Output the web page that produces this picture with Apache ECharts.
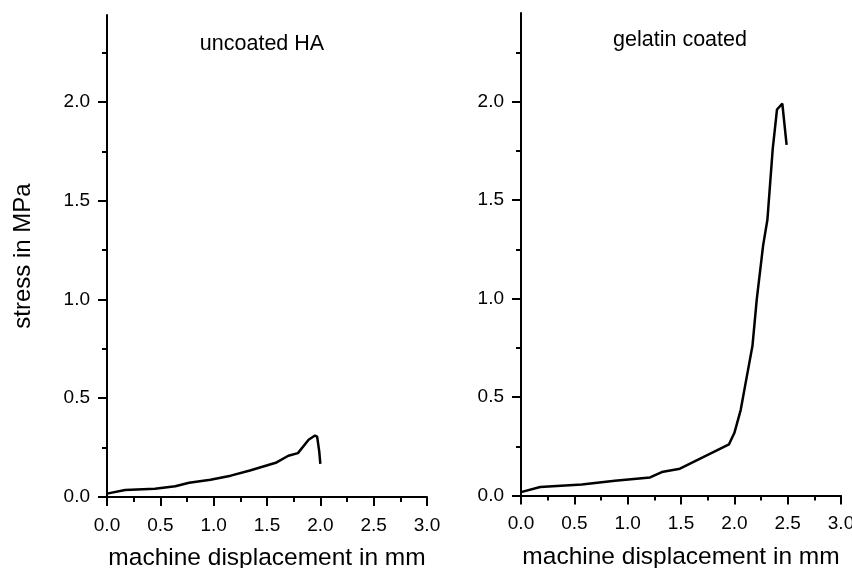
<!DOCTYPE html>
<html><head><meta charset="utf-8">
<script src="https://cdn.jsdelivr.net/npm/echarts@6/dist/echarts.min.js"></script>
<style>html,body{margin:0;padding:0;background:#fff}#c{width:852px;height:568px}</style>
</head><body><div id="c"></div>
<script>
// Panel titles and axis names
const panelTitles = ['uncoated HA', 'gelatin coated'];
const xName = 'machine displacement in mm';
const yName = 'stress in MPa';
// Tick values
const xMajorTicks = [0, 0.5, 1.0, 1.5, 2.0, 2.5, 3.0];
const yMajorTicks = [0, 0.5, 1.0, 1.5, 2.0];
const yMinorTicks = [0.25, 0.75, 1.25, 1.75, 2.25];
// Uncoated HA curve
const leftX = [0, 0.17, 0.45, 0.64, 0.77, 0.97, 1.16, 1.34, 1.59, 1.70, 1.79, 1.89, 1.95, 1.97, 1.99, 2.0];
const leftY = [0.017, 0.035, 0.042, 0.054, 0.072, 0.087, 0.108, 0.134, 0.175, 0.209, 0.222, 0.29, 0.311, 0.306, 0.23, 0.168];
// Gelatin coated curve
const rightX = [0, 0.18, 0.57, 0.88, 1.21, 1.32, 1.49, 1.95, 2.0, 2.06, 2.10, 2.17, 2.21, 2.27, 2.31, 2.36, 2.40, 2.45, 2.49];
const rightY = [0.017, 0.043, 0.056, 0.075, 0.092, 0.119, 0.136, 0.26, 0.317, 0.435, 0.554, 0.76, 0.995, 1.27, 1.40, 1.76, 1.96, 1.99, 1.78];

const FONT = "'Liberation Sans', Arial, sans-serif";
const chart = echarts.init(document.getElementById('c'), null, {renderer: 'canvas'});

function xAxisFor(gi) {
  return {
    type: 'value', gridIndex: gi, min: 0, max: 3, interval: 0.5,
    name: xName, nameLocation: 'middle', nameGap: 49,
    nameTextStyle: {fontFamily: FONT, fontSize: 24.5, color: '#000'},
    axisLine: {show: true, onZero: false, lineStyle: {color: '#000', width: 2}},
    axisTick: {show: true, inside: false, length: 9, customValues: xMajorTicks, lineStyle: {color: '#000', width: 2}},
    minorTick: {show: true, splitNumber: 2, length: 5, lineStyle: {color: '#000', width: 2}},
    axisLabel: {fontFamily: FONT, fontSize: 19, color: '#000', margin: 19, customValues: xMajorTicks,
      formatter: v => v.toFixed(1)},
    splitLine: {show: false}
  };
}
function yAxesFor(gi, max, showName) {
  return [{
    type: 'value', gridIndex: gi, min: 0, max: max, position: 'left',
    name: showName ? yName : '', nameLocation: 'middle', nameGap: 72, nameRotate: 90,
    nameTextStyle: {fontFamily: FONT, fontSize: 24, color: '#000'},
    axisLine: {show: true, onZero: false, lineStyle: {color: '#000', width: 2}},
    axisTick: {show: true, inside: false, length: 9, customValues: yMajorTicks, lineStyle: {color: '#000', width: 2}},
    axisLabel: {fontFamily: FONT, fontSize: 19, color: '#000', margin: 17, customValues: yMajorTicks,
      formatter: v => v.toFixed(1)},
    splitLine: {show: false}
  }, {
    type: 'value', gridIndex: gi, min: 0, max: max, position: 'left', offset: 0,
    axisLine: {show: false},
    axisTick: {show: true, inside: false, length: 5, customValues: yMinorTicks, lineStyle: {color: '#000', width: 2}},
    axisLabel: {show: false},
    splitLine: {show: false}
  }];
}

const option = {
  backgroundColor: '#fff',
  animation: false,
  title: [
    {text: panelTitles[0], left: 257, top: 28, textAlign: 'center',
     textStyle: {fontFamily: FONT, fontSize: 21.5, fontWeight: 'normal', color: '#000'}},
    {text: panelTitles[1], left: 675, top: 24, textAlign: 'center',
     textStyle: {fontFamily: FONT, fontSize: 21.5, fontWeight: 'normal', color: '#000'}}
  ],
  grid: [
    {left: 107, top: 15, width: 320, height: 482, containLabel: false, outerBoundsMode: 'none'},
    {left: 521, top: 13, width: 320, height: 482.5, containLabel: false, outerBoundsMode: 'none'}
  ],
  xAxis: [xAxisFor(0), xAxisFor(1)],
  yAxis: [...yAxesFor(0, 2.44, true), ...yAxesFor(1, 2.45, false)],
  series: [
    {type: 'line', xAxisIndex: 0, yAxisIndex: 0, symbol: 'none',
     lineStyle: {color: '#000', width: 2.5}, data: leftX.map((x, i) => [x, leftY[i]])},
    {type: 'line', xAxisIndex: 1, yAxisIndex: 2, symbol: 'none',
     lineStyle: {color: '#000', width: 2.5}, data: rightX.map((x, i) => [x, rightY[i]])}
  ]
};
chart.setOption(option);
</script></body></html>
